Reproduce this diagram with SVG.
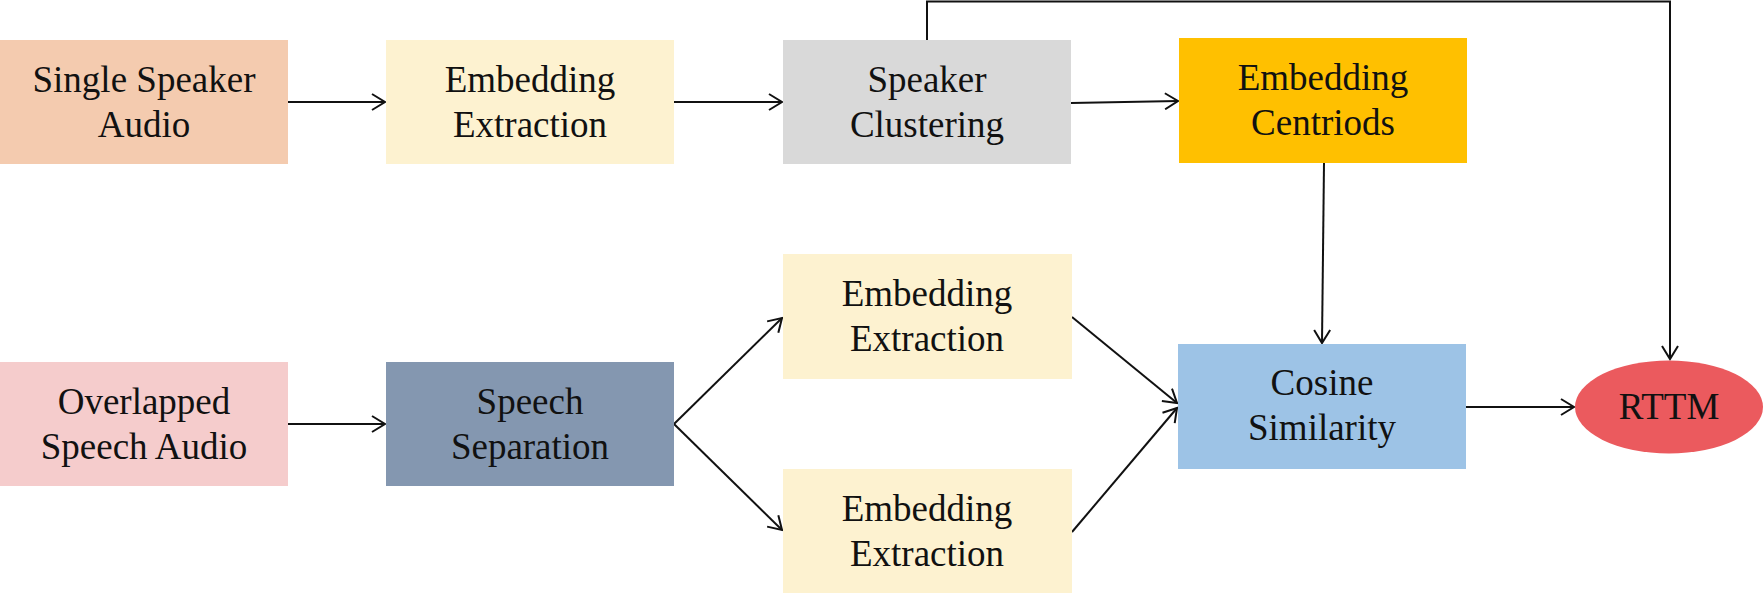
<svg xmlns="http://www.w3.org/2000/svg" width="1764" height="595" viewBox="0 0 1764 595">
<style>
text{font-family:"Liberation Serif","Times New Roman",serif;font-size:37px;fill:#111;text-anchor:middle}
.c{stroke:#111;stroke-width:2;fill:none}
</style>
<defs>
<marker id="ah" markerUnits="userSpaceOnUse" markerWidth="16" markerHeight="18" viewBox="0 0 16 18" refX="14" refY="9" orient="auto">
<path d="M1,1 L14,9 L1,17" fill="none" stroke="#111" stroke-width="2"/>
</marker>
</defs>
<rect width="1764" height="595" fill="#fff"/>
<g id="connectors">
<line class="c" x1="288" y1="102" x2="385" y2="102" marker-end="url(#ah)"/>
<line class="c" x1="674" y1="102" x2="782" y2="102" marker-end="url(#ah)"/>
<line class="c" x1="1071" y1="103" x2="1178" y2="101" marker-end="url(#ah)"/>
<polyline class="c" points="927,40 927,1.5 1670,1.5 1670,359" marker-end="url(#ah)"/>
<line class="c" x1="1324" y1="163" x2="1322" y2="343" marker-end="url(#ah)"/>
<line class="c" x1="288" y1="424" x2="385" y2="424" marker-end="url(#ah)"/>
<line class="c" x1="674" y1="424" x2="782" y2="318" marker-end="url(#ah)"/>
<line class="c" x1="674" y1="424" x2="782" y2="530" marker-end="url(#ah)"/>
<line class="c" x1="1072" y1="317" x2="1177" y2="403" marker-end="url(#ah)"/>
<line class="c" x1="1072" y1="532" x2="1177" y2="408" marker-end="url(#ah)"/>
<line class="c" x1="1466" y1="407" x2="1574" y2="407" marker-end="url(#ah)"/>
</g>
<g id="single-speaker-audio">
<rect x="0" y="40" width="288" height="124" fill="#F4CBAF"/>
<text x="144" y="92">Single Speaker</text>
<text x="144" y="137">Audio</text>
</g>
<g id="embedding-extraction-1">
<rect x="386" y="40" width="288" height="124" fill="#FDF2D0"/>
<text x="530" y="92">Embedding</text>
<text x="530" y="137">Extraction</text>
</g>
<g id="speaker-clustering">
<rect x="783" y="40" width="288" height="124" fill="#D9D9D9"/>
<text x="927" y="92">Speaker</text>
<text x="927" y="137">Clustering</text>
</g>
<g id="embedding-centroids">
<rect x="1179" y="38" width="288" height="125" fill="#FFC000"/>
<text x="1323" y="90">Embedding</text>
<text x="1323" y="135">Centriods</text>
</g>
<g id="overlapped-speech-audio">
<rect x="0" y="362" width="288" height="124" fill="#F5CCCC"/>
<text x="144" y="414">Overlapped</text>
<text x="144" y="459">Speech Audio</text>
</g>
<g id="speech-separation">
<rect x="386" y="362" width="288" height="124" fill="#8497B0"/>
<text x="530" y="414">Speech</text>
<text x="530" y="459">Separation</text>
</g>
<g id="embedding-extraction-2">
<rect x="783" y="254" width="289" height="125" fill="#FDF2D0"/>
<text x="927" y="306">Embedding</text>
<text x="927" y="351">Extraction</text>
</g>
<g id="embedding-extraction-3">
<rect x="783" y="469" width="289" height="124" fill="#FDF2D0"/>
<text x="927" y="521">Embedding</text>
<text x="927" y="566">Extraction</text>
</g>
<g id="cosine-similarity">
<rect x="1178" y="344" width="288" height="125" fill="#9DC3E6"/>
<text x="1322" y="395">Cosine</text>
<text x="1322" y="440">Similarity</text>
</g>
<g id="rttm">
<ellipse cx="1669" cy="407" rx="94" ry="46.5" fill="#EB5A5E"/>
<text x="1669" y="419">RTTM</text>
</g>
</svg>
